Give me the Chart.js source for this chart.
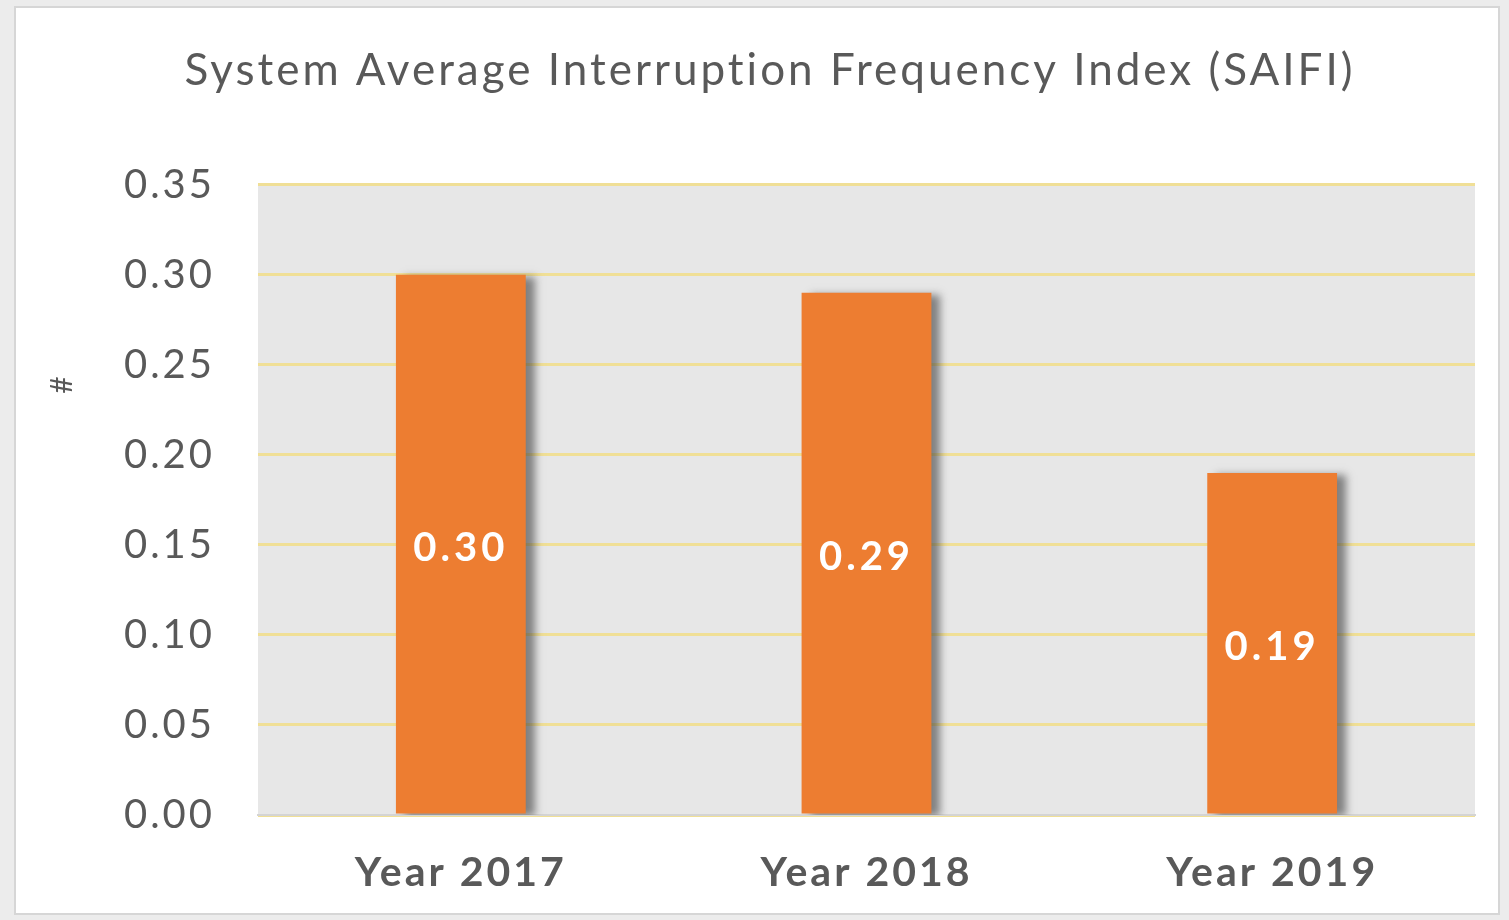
<!DOCTYPE html>
<html>
<head>
<meta charset="utf-8">
<script src="https://cdn.jsdelivr.net/npm/chart.js@4.4.0/dist/chart.umd.min.js"></script>
<style>
  html, body { margin: 0; padding: 0; background: #ececec; }
  #panel {
    position: absolute; left: 14px; top: 6px;
    width: 1486px; height: 909px;
    box-sizing: border-box;
    background: #ffffff;
    border: 2px solid #d6d6d6;
  }
  #saifi { display: block; }
</style>
</head>
<body>
<div id="panel"><canvas id="saifi" width="1482" height="905"></canvas></div>
<script>
const categories = ["Year 2017", "Year 2018", "Year 2019"];
const saifiValues = [0.30, 0.29, 0.19];
const yMax = 0.35;
const yStep = 0.05;
const yTitle = "#";

const textGray = "#595959";
const font = "Lato, 'Open Sans', sans-serif";

// the source text is wider than Lato, so space the letters out a little
const spacing = {
  id: "spacing",
  beforeUpdate(chart) { chart.ctx.letterSpacing = "3px"; },
  beforeDraw(chart) { chart.ctx.letterSpacing = "3px"; }
};

// gray plot background behind the bars
const plotBackground = {
  id: "plotBackground",
  beforeDraw(chart) {
    const { ctx, chartArea } = chart;
    ctx.save();
    ctx.fillStyle = "#e7e7e7";
    ctx.fillRect(chartArea.left, chartArea.top, chartArea.right - chartArea.left, chartArea.bottom - chartArea.top);
    ctx.restore();
  }
};

// soft shadow on the right of each bar
const barShadow = {
  id: "barShadow",
  beforeDatasetsDraw(chart) {
    const ctx = chart.ctx;
    ctx.save();
    ctx.shadowColor = "rgba(60,60,60,0.6)";
    ctx.shadowBlur = 8;
    ctx.shadowOffsetX = 9;
    ctx.shadowOffsetY = 2;
  },
  afterDatasetsDraw(chart) {
    chart.ctx.restore();
  }
};

// value labels in the middle of the bars, plus the "#" axis title
const valueLabels = {
  id: "valueLabels",
  afterDatasetsDraw(chart) {
    const ctx = chart.ctx;
    const meta = chart.getDatasetMeta(0);
    ctx.save();
    ctx.fillStyle = "#ffffff";
    ctx.font = "bold 40px " + font;
    ctx.letterSpacing = "4px";
    ctx.textAlign = "center";
    ctx.textBaseline = "middle";
    meta.data.forEach((bar, i) => {
      const v = chart.data.datasets[0].data[i];
      ctx.fillText(v.toFixed(2), bar.x, (bar.y + bar.base) / 2 + 4);
    });
    ctx.restore();

    ctx.save();
    ctx.fillStyle = textGray;
    ctx.font = "30px " + font;
    ctx.letterSpacing = "0px";
    ctx.textAlign = "center";
    ctx.textBaseline = "middle";
    ctx.translate(46, 377);
    ctx.rotate(-Math.PI / 2);
    ctx.fillText(yTitle, 0, 0);
    ctx.restore();
  }
};

new Chart(document.getElementById("saifi"), {
  type: "bar",
  data: {
    labels: categories,
    datasets: [{
      label: "SAIFI",
      data: saifiValues,
      backgroundColor: "#ed7d31",
      borderWidth: 0,
      barPercentage: 0.32,
      categoryPercentage: 1.0
    }]
  },
  options: {
    responsive: false,
    animation: false,
    layout: { padding: { left: 49, right: 23, top: 0, bottom: 0 } },
    plugins: {
      legend: { display: false },
      tooltip: { enabled: false },
      title: {
        display: true,
        text: "System Average Interruption Frequency Index (SAIFI)",
        color: textGray,
        font: { family: font, size: 44, weight: "normal" },
        padding: { top: 36, bottom: 88 }
      }
    },
    scales: {
      x: {
        grid: { display: false },
        border: { display: true, color: "#d4d4d4", width: 2 },
        ticks: {
          color: textGray,
          padding: 25,
          font: { family: font, size: 41, weight: "bold" }
        },
        afterFit(scale) { scale.height = 98; }
      },
      y: {
        min: 0,
        max: yMax,
        ticks: {
          stepSize: yStep,
          color: textGray,
          padding: 43,
          font: { family: font, size: 40 },
          callback: (v) => v.toFixed(2)
        },
        grid: { color: "#f0df96", lineWidth: 3, drawTicks: false },
        border: { display: false },
        afterFit(scale) { scale.width = 193; }
      }
    }
  },
  plugins: [spacing, plotBackground, barShadow, valueLabels]
});
</script>
</body>
</html>
